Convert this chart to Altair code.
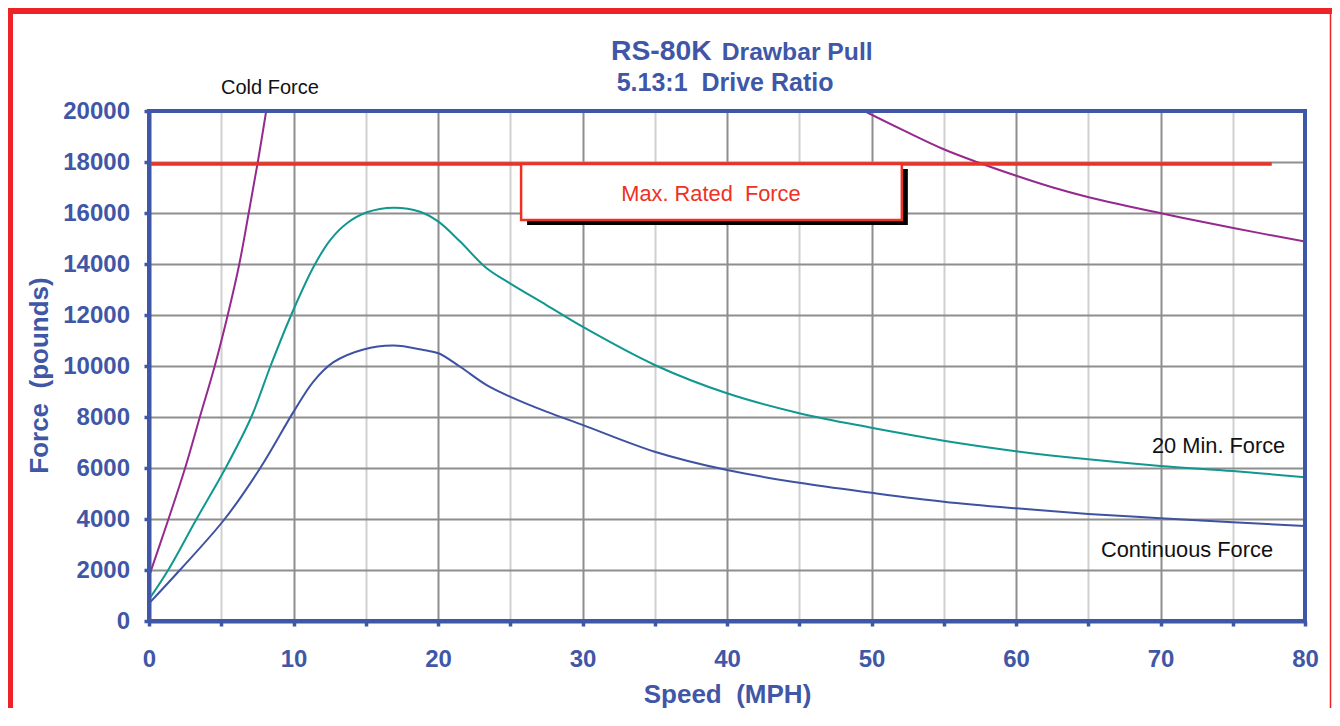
import altair as alt
import pandas as pd

# ---------------- data ----------------
speed_cold_low = [0, 1.35, 2.5, 3.52, 4.55, 5.45, 6.25, 6.9, 7.53, 8.11]
force_cold_low = [1750, 4000, 6000, 8000, 10000, 12000, 14000, 16000, 18000, 20000]

speed_cold_high = [49.5, 52.15, 55.0, 57.39, 60.02, 62.5, 65.03, 70.03, 75.04, 80]
force_cold_high = [20000, 19260, 18500, 17980, 17460, 17010, 16620, 15990, 15410, 14880]

speed_20min = [0, 1.33, 3.29, 5.3, 7.08, 8.41, 9.84, 11.39, 12.54, 13.7, 15.08, 16.92,
               18.76, 20.03, 21.53, 23.37, 24.98, 27.5, 30.0, 35, 40, 45, 50, 55, 60,
               65, 70, 75, 80]
force_20min = [850, 2000, 4000, 6000, 8000, 10000, 12000, 13890, 14940, 15600, 16030, 16210,
               16050, 15660, 14880, 13830, 13240, 12390, 11540, 10040, 8930, 8150, 7580, 7070, 6660,
               6340, 6080, 5880, 5640]

speed_cont = [0, 2.14, 5.24, 7.7, 10.0, 11.39, 12.77, 14.84, 16.92, 18.99, 20.03, 21.53,
              23.37, 24.98, 27.5, 30, 35, 40, 45, 50, 55, 60, 65, 70, 75, 80]
force_cont = [690, 2000, 4000, 6000, 8200, 9400, 10150, 10650, 10800, 10630, 10500, 9970,
              9250, 8800, 8210, 7690, 6640, 5920, 5420, 5030, 4680, 4420, 4200, 4030, 3870, 3730]

max_rated_force = 17920
max_rated_end = 77.7
box_speed = [25.75, 52.1]
box_force = [15725, 17920]

x_ticks = list(range(0, 81, 5))
y_ticks = list(range(0, 20001, 1000))

title_main = "RS-80K"
title_rest = "Drawbar Pull"
title_line2 = "5.13:1\u00a0 Drive Ratio"
x_title = "Speed\u00a0 (MPH)"
y_title = "Force\u00a0 (pounds)"

label_text = ["Cold Force", "20 Min. Force", "Continuous Force", "Max. Rated\u00a0 Force"]
label_speed = [8.37, 69.41, 65.88, 38.89]
label_force = [20655, 6600, 2520, 16480]

# ---------------- styling ----------------
FONT = "Liberation Sans"
BLUE = "#3F57A6"
RED = "#EE3124"
PURPLE = "#952A8E"
TEAL = "#109890"
LINEBLUE = "#3E52A3"
GRID_MAJOR = "#8E8E8E"
GRID_MINOR = "#D0D0D0"
W, H = 1156, 510

rows = []
for name, sp, fo in [("cold_low", speed_cold_low, force_cold_low),
                     ("cold_high", speed_cold_high, force_cold_high),
                     ("min20", speed_20min, force_20min),
                     ("cont", speed_cont, force_cont)]:
    for s, f in zip(sp, fo):
        rows.append({"speed": s, "force": f, "series": name})
df = pd.DataFrame(rows)

xs = alt.Scale(domain=[0, 80], nice=False, zero=False)
ys = alt.Scale(domain=[0, 20000], nice=False)

x_axis = alt.Axis(
    values=x_ticks, format="d",
    labelExpr="datum.value % 10 === 0 ? datum.label : ''",
    grid=True, gridWidth=2,
    gridColor=alt.condition("datum.value % 10 === 0", alt.value(GRID_MAJOR), alt.value(GRID_MINOR)),
    domainColor=BLUE, domainWidth=4,
    tickColor=BLUE, tickSize=5, tickWidth=3.5,
    labelColor=BLUE, labelFont=FONT, labelFontSize=24, labelFontWeight="bold",
    labelPadding=21, labelFlush=False, labelOverlap=False,
    title=x_title, titleColor=BLUE, titleFont=FONT, titleFontSize=26, titleFontWeight="bold",
    titleX=578, titleY=81, titleAlign="center", titleBaseline="alphabetic",
    zindex=0,
)
y_axis = alt.Axis(
    values=y_ticks, format="d",
    labelExpr="datum.value % 2000 === 0 ? datum.label : ''",
    grid=True, gridWidth=2,
    gridColor=alt.condition("datum.value % 2000 === 0", alt.value(GRID_MAJOR), alt.value(GRID_MINOR)),
    domainColor=BLUE, domainWidth=4,
    tickColor=BLUE, tickSize=5, tickWidth=3.5,
    labelColor=BLUE, labelFont=FONT, labelFontSize=24, labelFontWeight="bold",
    labelPadding=14.5, labelFlush=False, labelOverlap=False,
    title=y_title, titleColor=BLUE, titleFont=FONT, titleFontSize=26, titleFontWeight="bold",
    titleAngle=270, titleX=-110, titleY=264, titleAlign="center", titleBaseline="middle",
    zindex=0,
)

lines = alt.Chart(df).mark_line(strokeWidth=2, interpolate="catmull-rom", clip=True).encode(
    x=alt.X("speed:Q", scale=xs, axis=x_axis),
    y=alt.Y("force:Q", scale=ys, axis=y_axis),
    color=alt.Color("series:N",
                    scale=alt.Scale(domain=["cold_low", "cold_high", "min20", "cont"],
                                    range=[PURPLE, PURPLE, TEAL, LINEBLUE]),
                    legend=None),
)

maxdf = pd.DataFrame({"speed": [0], "speed2": [max_rated_end], "force": [max_rated_force]})
red_line = alt.Chart(maxdf).mark_rule(color=RED, strokeWidth=3.5).encode(
    x=alt.X("speed:Q", scale=xs), x2="speed2:Q",
    y=alt.Y("force:Q", scale=ys),
)

boxdf = pd.DataFrame({"speed": [box_speed[0]], "speed2": [box_speed[1]],
                      "force": [box_force[0]], "force2": [box_force[1]]})
shadow = alt.Chart(boxdf).mark_rect(color="#000000", xOffset=6, x2Offset=6, yOffset=5, y2Offset=5).encode(
    x=alt.X("speed:Q", scale=xs), x2="speed2:Q",
    y=alt.Y("force:Q", scale=ys), y2="force2:Q",
)
box = alt.Chart(boxdf).mark_rect(fill="#FFFFFF", stroke=RED, strokeWidth=2.5).encode(
    x=alt.X("speed:Q", scale=xs), x2="speed2:Q",
    y=alt.Y("force:Q", scale=ys), y2="force2:Q",
)

labdf = pd.DataFrame({"t": label_text, "speed": label_speed, "force": label_force})


def label(i, align, size, color):
    return alt.Chart(labdf.iloc[[i]]).mark_text(
        align=align, baseline="alphabetic", font=FONT, fontSize=size, color=color
    ).encode(
        x=alt.X("speed:Q", scale=xs),
        y=alt.Y("force:Q", scale=ys),
        text="t:N",
    )


labels = [
    label(0, "center", 20, "#111111"),
    label(1, "left", 21.8, "#111111"),
    label(2, "left", 21.8, "#111111"),
    label(3, "center", 21.8, RED),
]

one = pd.DataFrame({"a": [0]})


def ptext(txt, x, y, size):
    return alt.Chart(one).mark_text(
        align="left", baseline="alphabetic", font=FONT, fontSize=size, fontWeight="bold", color=BLUE
    ).encode(x=alt.value(x), y=alt.value(y), text=alt.value(txt))


titles = [
    ptext(title_main, 462, -51, 28.3),
    ptext(title_rest, 572.7, -51, 24.7),
    ptext(title_line2, 467.7, -20.3, 25),
]


def frame(**enc):
    return alt.Chart(one).mark_rule(color=BLUE, strokeWidth=4, strokeCap="square").encode(**enc)


frames = [
    frame(x=alt.value(0), x2=alt.value(W), y=alt.value(0)),
    frame(x=alt.value(W), y=alt.value(0), y2=alt.value(H)),
    frame(x=alt.value(0), y=alt.value(0), y2=alt.value(H)),
    frame(x=alt.value(0), x2=alt.value(W), y=alt.value(H)),
]

PL, PT, PR, PB = 141, 103, 27, 87
border_left = alt.Chart(one).mark_rule(color="#ED2427", strokeWidth=5).encode(
    x=alt.value(-PL + 2.5), y=alt.value(-PT), y2=alt.value(H + PB))
border_top = alt.Chart(one).mark_rule(color="#ED2427", strokeWidth=6).encode(
    x=alt.value(-PL), x2=alt.value(W + PR), y=alt.value(-PT + 3))
border_right = alt.Chart(one).mark_rule(color="#ED2427", strokeWidth=1.5).encode(
    x=alt.value(W + PR - 1.5), y=alt.value(-PT), y2=alt.value(H + PB))

chart = alt.layer(
    lines, red_line, shadow, box, *labels, *titles, *frames,
    border_left, border_top, border_right,
).properties(
    width=W, height=H,
    autosize=alt.AutoSizeParams(type="none"),
    padding={"left": PL, "top": PT, "right": PR, "bottom": PB},
    background="#FFFFFF",
).configure_view(stroke="transparent").configure(font=FONT)

chart.save("out.html", embed_options={"renderer": "svg", "actions": False})
